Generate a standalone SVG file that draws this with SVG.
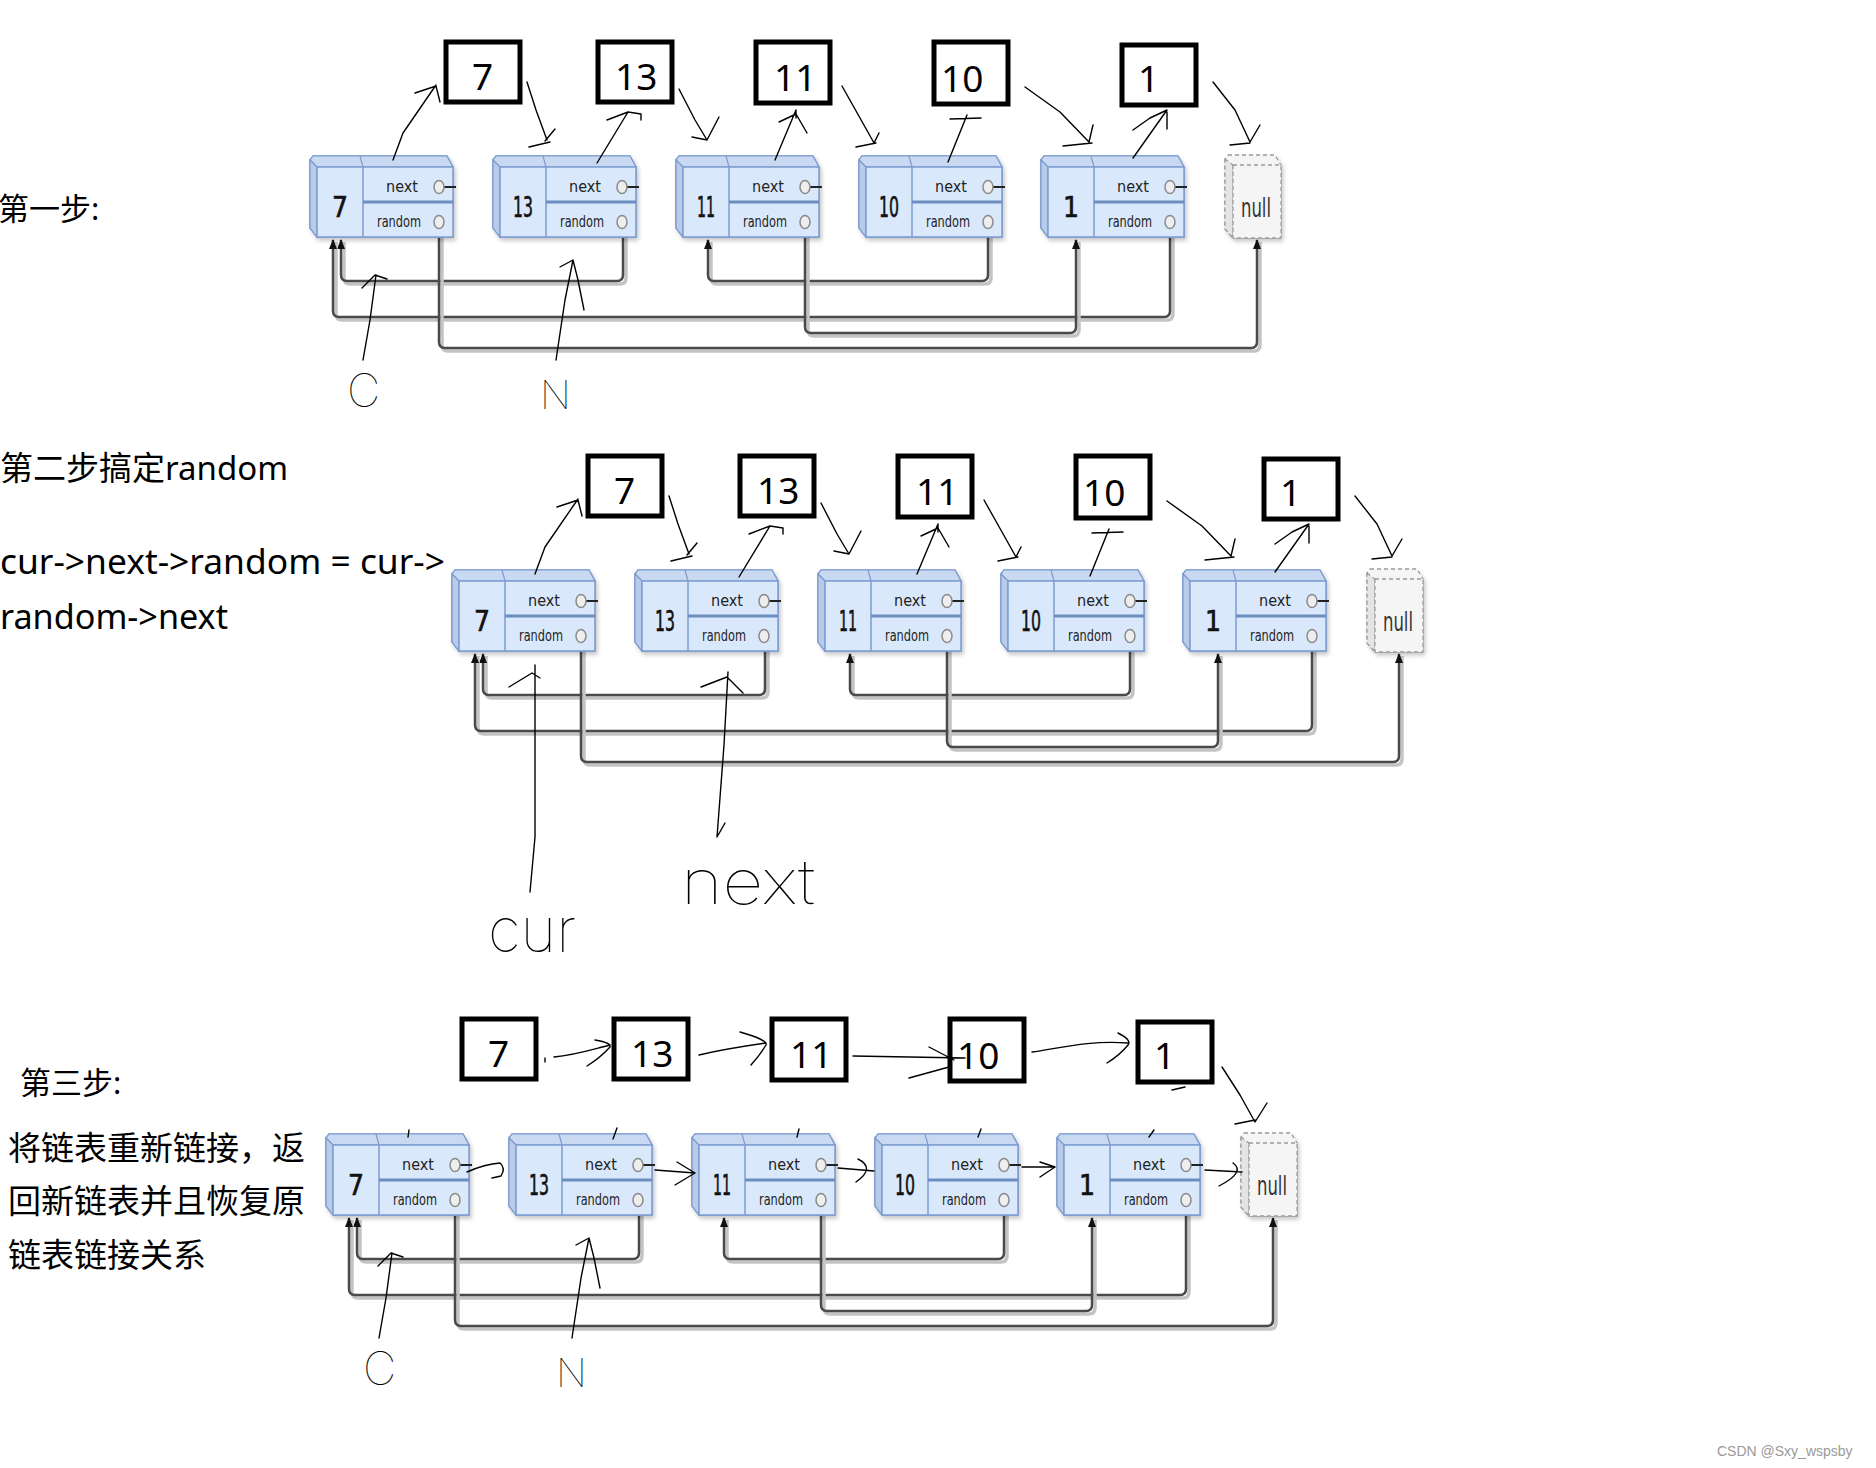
<svg xmlns="http://www.w3.org/2000/svg" xmlns:xlink="http://www.w3.org/1999/xlink" width="1876" height="1468" viewBox="0 0 1876 1468">
<style>
.cn{font-family:"Noto Sans","Noto Sans CJK SC",sans-serif;fill:#000}
.lbl{font-family:"Noto Sans","Liberation Sans",sans-serif;font-size:37px;fill:#000}
.box{fill:#fff;stroke:#000;stroke-width:5}
.fld{font-family:"Liberation Sans Narrow","DejaVu Sans Condensed",sans-serif;font-size:16px;fill:#222;text-anchor:middle}
.val{font-family:"Liberation Sans Narrow","DejaVu Sans Condensed",sans-serif;font-size:28px;fill:#111;stroke:#111;stroke-width:0.6;text-anchor:middle}
.hw{fill:none;stroke:#000;stroke-width:1.4;stroke-linecap:round;stroke-linejoin:round}
.hwt{font-family:Inter,Roboto,"Liberation Sans",sans-serif;font-weight:100;fill:#000}
.ln{fill:none;stroke:#4a4a4a;stroke-width:2.5;stroke-linejoin:round}
.lns{fill:none;stroke:#c4c4c4;stroke-width:3.5;stroke-linejoin:round}
</style>
<defs>
<filter id="sh" x="-10%" y="-10%" width="130%" height="140%"><feDropShadow dx="2" dy="3" stdDeviation="2" flood-color="#000" flood-opacity="0.22"/></filter>
<marker id="ah" viewBox="0 0 10 8" refX="9" refY="4" markerWidth="10" markerHeight="8" markerUnits="userSpaceOnUse" orient="auto"><path d="M0,0 L10,4 L0,8 z" fill="#111"/></marker>
<g id="nb">
<g filter="url(#sh)">
<polygon points="3,0 137,0 143,11 143,81 7,81 0,72 0,4" fill="#dae8fc" stroke="#7c9cd0" stroke-width="1.5"/>
</g>
<polygon points="3,0 137,0 143,11 7,11 0,4" fill="#c9d9f1" stroke="#7c9cd0" stroke-width="1.2"/>
<polygon points="0,4 7,11 7,81 0,72" fill="#b9cbe8" stroke="#7c9cd0" stroke-width="1.2"/>
<rect x="7" y="11" width="136" height="70" fill="#dae8fc" stroke="#7c9cd0" stroke-width="1.5"/>
<line x1="50" y1="0" x2="53" y2="11" stroke="#7c9cd0" stroke-width="1.2"/>
<line x1="53" y1="11" x2="53" y2="81" stroke="#7c9cd0" stroke-width="1.5"/>
<line x1="53" y1="46" x2="143" y2="46" stroke="#6c8ebf" stroke-width="3"/>
<text class="fld" x="92" y="36">next</text>
<text class="fld" x="89" y="71" textLength="44" lengthAdjust="spacingAndGlyphs">random</text>
<line x1="134" y1="31" x2="146" y2="31" stroke="#222" stroke-width="2"/>
<ellipse cx="129" cy="31" rx="5" ry="6.5" fill="#eeeeee" stroke="#8a8a8a" stroke-width="1.5"/>
<ellipse cx="129" cy="66" rx="5" ry="6.5" fill="#eeeeee" stroke="#8a8a8a" stroke-width="1.5"/>
</g>
<g id="nullb">
<g filter="url(#sh)">
<polygon points="3,0 50,0 56,10 56,83 8,83 0,74 0,4" fill="#f5f5f5" stroke="#9a9a9a" stroke-width="1.3" stroke-dasharray="4,3"/>
</g>
<polygon points="0,4 8,10 8,83 0,74" fill="#e4e4e4" stroke="#9a9a9a" stroke-width="1.2" stroke-dasharray="4,3"/>
<rect x="8" y="10" width="48" height="73" fill="#f5f5f5" stroke="#9a9a9a" stroke-width="1.3" stroke-dasharray="4,3"/>
<text x="31" y="62" font-family="'Liberation Sans Narrow','DejaVu Sans Condensed',sans-serif" font-size="27" fill="#333" text-anchor="middle" textLength="30" lengthAdjust="spacingAndGlyphs">null</text>
</g>
<g id="conn">
<path class="lns" d="M626,231 V278 Q626,284 620,284 H350 Q344,284 344,278 V242"/>
<path class="ln" d="M623,228 V275 Q623,281 617,281 H347 Q341,281 341,275 V240" marker-end="url(#ah)"/>
<path class="lns" d="M991,231 V278 Q991,284 985,284 H717 Q711,284 711,278 V242"/>
<path class="ln" d="M988,228 V275 Q988,281 982,281 H714 Q708,281 708,275 V240" marker-end="url(#ah)"/>
<path class="lns" d="M1173,231 V314 Q1173,320 1167,320 H342 Q336,320 336,314 V242"/>
<path class="ln" d="M1170,228 V311 Q1170,317 1164,317 H339 Q333,317 333,311 V240" marker-end="url(#ah)"/>
<path class="lns" d="M808,231 V330 Q808,336 814,336 H1073 Q1079,336 1079,330 V242"/>
<path class="ln" d="M805,228 V327 Q805,333 811,333 H1070 Q1076,333 1076,327 V240" marker-end="url(#ah)"/>
<path class="lns" d="M442,231 V345 Q442,351 448,351 H1254 Q1260,351 1260,345 V242"/>
<path class="ln" d="M439,228 V342 Q439,348 445,348 H1251 Q1257,348 1257,342 V240" marker-end="url(#ah)"/>
</g>
<g id="hwa">
<path class="hw" d="M393,160 L403,133 L436,85 M415,93 L436,86 L440,102"/>
<path class="hw" d="M527,82 L536,110 L547,140 M555,129 L545,141 M529,147 L550,142"/>
<path class="hw" d="M597,163 L628,112 M607,120 L628,112 L641,114 L641,120"/>
<path class="hw" d="M679,89 L695,120 L707,140 M692,137 L707,140 L719,117"/>
<path class="hw" d="M775,160 L796,110 M779,122 L796,114 L807,133 M796,110 L796,118"/>
<path class="hw" d="M842,86 L860,118 L874,143 M879,133 L874,143 M856,147 L876,143"/>
<path class="hw" d="M948,162 L967,115 M950,119 L981,118"/>
<path class="hw" d="M1025,87 L1060,112 L1089,142 M1093,125 L1089,142 M1063,146 L1092,143"/>
<path class="hw" d="M1133,158 L1167,110 M1133,130 L1150,118 L1167,110 M1167,112 L1167,129"/>
<path class="hw" d="M1213,82 L1235,110 L1250,142 M1260,125 L1250,142 M1230,145 L1250,143"/>
</g>
<g id="hwcn">
<path class="hw" d="M363,360 L370,320 L376,275 M362,288 L375,275 L387,279"/>
<path class="hw" d="M556,360 L565,300 L573,260 M560,267 L573,260 L578,280 L584,310"/>
<text class="hwt" x="347" y="407" font-size="46">C</text>
<text class="hwt" x="540" y="409" font-size="40">N</text>
</g>
</defs>
<rect width="1876" height="1468" fill="#fff"/>

<g id="texts">
<text class="cn" x="-2" y="220" font-size="31">第一步:</text>
<text class="cn" x="0" y="480" font-size="33">第二步搞定random</text>
<text class="cn" x="0" y="574" font-size="34" textLength="445" lengthAdjust="spacingAndGlyphs">cur-&gt;next-&gt;random = cur-&gt;</text>
<text class="cn" x="0" y="629" font-size="34" textLength="228" lengthAdjust="spacingAndGlyphs">random-&gt;next</text>
<text class="cn" x="20" y="1094" font-size="31">第三步:</text>
<text class="cn" x="8" y="1160" font-size="33">将链表重新链接，返</text>
<text class="cn" x="8" y="1213" font-size="33">回新链表并且恢复原</text>
<text class="cn" x="8" y="1267" font-size="33">链表链接关系</text>
<text x="1717" y="1456" font-family="'Liberation Sans',sans-serif" font-size="14" fill="#9a9a9a">CSDN @Sxy_wspsby</text>
</g>

<g id="connectors">
<use xlink:href="#conn" href="#conn"/>
<use xlink:href="#conn" href="#conn" transform="translate(142,414)"/>
<use xlink:href="#conn" href="#conn" transform="translate(16,978)"/>
</g>

<g id="s1">
<g id="s1-node-7"><use href="#nb" xlink:href="#nb" x="310" y="156"/><text class="val" x="340" y="217">7</text></g>
<g id="s1-node-13"><use href="#nb" xlink:href="#nb" x="493" y="156"/><text class="val" x="523" y="217" textLength="20" lengthAdjust="spacingAndGlyphs">13</text></g>
<g id="s1-node-11"><use href="#nb" xlink:href="#nb" x="676" y="156"/><text class="val" x="706" y="217" textLength="18" lengthAdjust="spacingAndGlyphs">11</text></g>
<g id="s1-node-10"><use href="#nb" xlink:href="#nb" x="859" y="156"/><text class="val" x="889" y="217" textLength="20" lengthAdjust="spacingAndGlyphs">10</text></g>
<g id="s1-node-1"><use href="#nb" xlink:href="#nb" x="1041" y="156"/><text class="val" x="1071" y="217">1</text></g>
<g id="s1-node-null"><use href="#nullb" xlink:href="#nullb" x="1225" y="155"/></g>
<g id="s1-box-7"><rect class="box" x="446" y="42" width="74" height="60"/><text class="lbl" x="472" y="90">7</text></g>
<g id="s1-box-13"><rect class="box" x="598" y="42" width="74" height="60"/><text class="lbl" x="615" y="90">13</text></g>
<g id="s1-box-11"><rect class="box" x="756" y="42" width="74" height="61"/><text class="lbl" x="774" y="91">11</text></g>
<g id="s1-box-10"><rect class="box" x="934" y="42" width="74" height="62"/><text class="lbl" x="941" y="92">10</text></g>
<g id="s1-box-1"><rect class="box" x="1122" y="45" width="74" height="60"/><text class="lbl" x="1138" y="92">1</text></g>
</g>

<g id="s2">
<g id="s2-node-7"><use href="#nb" xlink:href="#nb" x="452" y="570"/><text class="val" x="482" y="631">7</text></g>
<g id="s2-node-13"><use href="#nb" xlink:href="#nb" x="635" y="570"/><text class="val" x="665" y="631" textLength="20" lengthAdjust="spacingAndGlyphs">13</text></g>
<g id="s2-node-11"><use href="#nb" xlink:href="#nb" x="818" y="570"/><text class="val" x="848" y="631" textLength="18" lengthAdjust="spacingAndGlyphs">11</text></g>
<g id="s2-node-10"><use href="#nb" xlink:href="#nb" x="1001" y="570"/><text class="val" x="1031" y="631" textLength="20" lengthAdjust="spacingAndGlyphs">10</text></g>
<g id="s2-node-1"><use href="#nb" xlink:href="#nb" x="1183" y="570"/><text class="val" x="1213" y="631">1</text></g>
<g id="s2-node-null"><use href="#nullb" xlink:href="#nullb" x="1367" y="569"/></g>
<g id="s2-box-7"><rect class="box" x="588" y="456" width="74" height="60"/><text class="lbl" x="614" y="504">7</text></g>
<g id="s2-box-13"><rect class="box" x="740" y="456" width="74" height="60"/><text class="lbl" x="757" y="504">13</text></g>
<g id="s2-box-11"><rect class="box" x="898" y="456" width="74" height="61"/><text class="lbl" x="916" y="505">11</text></g>
<g id="s2-box-10"><rect class="box" x="1076" y="456" width="74" height="62"/><text class="lbl" x="1083" y="506">10</text></g>
<g id="s2-box-1"><rect class="box" x="1264" y="459" width="74" height="60"/><text class="lbl" x="1280" y="506">1</text></g>
</g>

<g id="s3">
<g id="s3-node-7"><use href="#nb" xlink:href="#nb" x="326" y="1134"/><text class="val" x="356" y="1195">7</text></g>
<g id="s3-node-13"><use href="#nb" xlink:href="#nb" x="509" y="1134"/><text class="val" x="539" y="1195" textLength="20" lengthAdjust="spacingAndGlyphs">13</text></g>
<g id="s3-node-11"><use href="#nb" xlink:href="#nb" x="692" y="1134"/><text class="val" x="722" y="1195" textLength="18" lengthAdjust="spacingAndGlyphs">11</text></g>
<g id="s3-node-10"><use href="#nb" xlink:href="#nb" x="875" y="1134"/><text class="val" x="905" y="1195" textLength="20" lengthAdjust="spacingAndGlyphs">10</text></g>
<g id="s3-node-1"><use href="#nb" xlink:href="#nb" x="1057" y="1134"/><text class="val" x="1087" y="1195">1</text></g>
<g id="s3-node-null"><use href="#nullb" xlink:href="#nullb" x="1241" y="1133"/></g>
<g id="s3-box-7"><rect class="box" x="462" y="1019" width="74" height="60"/><text class="lbl" x="488" y="1067">7</text></g>
<g id="s3-box-13"><rect class="box" x="614" y="1019" width="74" height="60"/><text class="lbl" x="631" y="1067">13</text></g>
<g id="s3-box-11"><rect class="box" x="772" y="1019" width="74" height="61"/><text class="lbl" x="790" y="1068">11</text></g>
<g id="s3-box-10"><rect class="box" x="950" y="1019" width="74" height="62"/><text class="lbl" x="957" y="1069">10</text></g>
<g id="s3-box-1"><rect class="box" x="1138" y="1022" width="74" height="60"/><text class="lbl" x="1154" y="1069">1</text></g>
</g>

<g id="annotations">
<use href="#hwa" xlink:href="#hwa"/>
<use href="#hwcn" xlink:href="#hwcn"/>
<use href="#hwa" xlink:href="#hwa" transform="translate(142,414)"/>
<path class="hw" d="M535,665 L535,837 L530,892 M509,687 L532,673 L540,678"/>
<path class="hw" d="M728,672 L724,745 L717,837 L725,823 M701,687 L727,677 L743,693"/>
<text class="hwt" x="488" y="952" font-size="62" textLength="88" lengthAdjust="spacingAndGlyphs">cur</text>
<text class="hwt" x="681" y="904" font-size="62" textLength="134" lengthAdjust="spacingAndGlyphs">next</text>
<use href="#hwcn" xlink:href="#hwcn" transform="translate(16,978)"/>
<path class="hw" d="M554,1057 C575,1055 590,1050 610,1045 M595,1040 Q612,1043 610,1047 Q600,1058 587,1066 M545,1058 L545,1062"/>
<path class="hw" d="M699,1055 C720,1050 745,1046 766,1043 M740,1032 Q768,1040 766,1045 Q760,1055 751,1065"/>
<path class="hw" d="M853,1056 L965,1058 M929,1047 L954,1060 M909,1078 L949,1067"/>
<path class="hw" d="M1032,1052 C1060,1048 1090,1040 1128,1043 M1118,1033 Q1132,1040 1128,1045 Q1120,1055 1107,1063"/>
<path class="hw" d="M1222,1067 L1240,1095 L1255,1122 M1267,1103 L1255,1122 M1235,1124 L1255,1120 M1172,1090 L1185,1087"/>
<path class="hw" d="M409,1130 L408,1137 M617,1128 L613,1139 M799,1129 L797,1137 M981,1129 L978,1137 M1154,1130 L1149,1137"/>
<path class="hw" d="M467,1172 Q485,1164 500,1163 Q506,1168 501,1176 L492,1178"/>
<path class="hw" d="M655,1170 L695,1173 M677,1162 L695,1173 L675,1185"/>
<path class="hw" d="M838,1168 L874,1171 M858,1159 Q876,1168 856,1182"/>
<path class="hw" d="M1022,1167 L1055,1167 M1040,1162 L1055,1167 L1040,1177"/>
<path class="hw" d="M1205,1170 L1242,1172 M1233,1163 Q1246,1172 1219,1186"/>
</g>
</svg>
